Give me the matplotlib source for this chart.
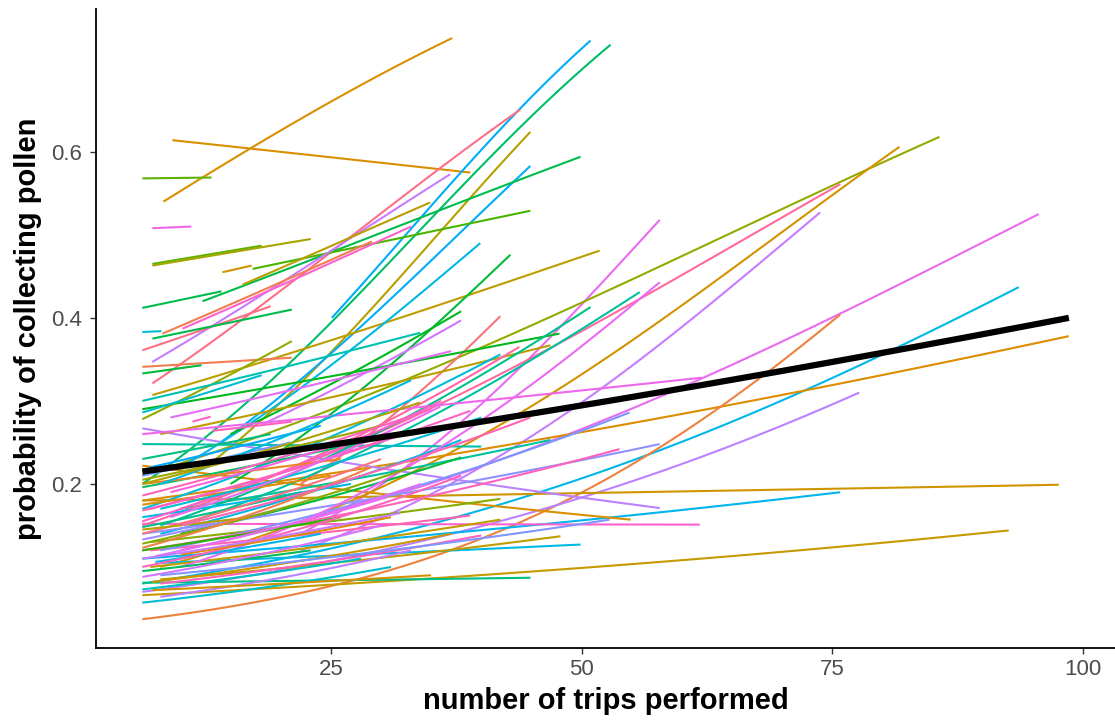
import numpy as np
import matplotlib
matplotlib.use("Agg")
import matplotlib.pyplot as plt

plt.rcParams['font.family'] = ['Liberation Sans', 'DejaVu Sans']

# per-individual fitted lines: start/end trips, start/end probability, group hue
x_start = [8.3, 9.2, 6.2, 7.2, 25.1, 6.2, 7.2, 12.5, 14.0, 12.2, 17.2, 7.2, 16.2, 10.2, 22.0,
           6.2, 10.0, 22.0, 8.0, 10.0, 6.2, 6.2, 6.2, 6.2, 6.2, 6.2, 6.2, 6.2,
           6.2, 6.2, 8.0, 6.2, 8.0, 7.0, 7.0, 8.0, 7.0, 6.2, 10.0, 8.0, 10.0, 8.0, 6.2, 6.2,
           7.2, 15.0, 10.0, 15.0, 18.2, 22.0, 6.2, 8.0, 10.0, 8.0, 10.0, 6.2, 6.2, 6.2,
           7.2, 7.2, 14.2, 6.2, 8.2, 6.2, 7.2, 6.2, 6.2, 6.2, 6.2, 6.2, 11.2, 13.2, 9.0,
           6.2, 6.2, 6.2, 6.2, 6.2, 6.2, 6.2, 6.2, 6.2, 6.2, 6.2, 6.2, 7.5, 7.5, 6.2, 6.2,
           6.2, 7.2, 6.2, 8.0, 6.2, 7.0, 6.2, 6.2, 9.0, 6.2, 8.0, 6.2, 10.0, 6.2, 7.2,
           8.0, 8.0, 6.2, 6.2, 7.0, 10.0, 9.0, 6.2]
x_end = [37.1, 38.9, 13.1, 11.1, 50.9, 52.9, 43.9, 44.9, 44.9, 49.9, 44.9, 36.9, 34.9, 33.0, 57.8,
         85.7, 75.8, 73.8, 81.7, 95.6, 93.6, 98.6, 75.8, 77.7, 97.6, 92.6, 75.8, 61.8,
         54.9, 57.8, 49.9, 44.9, 47.9, 41.9, 41.9, 40.0, 38.9, 40.0, 46.9, 38.0, 38.0, 54.8, 57.8, 53.8,
         51.8, 42.9, 39.9, 38.0, 38.0, 41.9, 47.8, 46.9, 55.8, 50.9, 57.8, 41.9, 43.8, 62.0,
         18.1, 23.0, 17.1, 14.1, 29.1, 19.0, 21.1, 8.1, 21.1, 21.1, 12.1, 18.1, 13.0, 21.1, 37.0,
         30.0, 28.0, 35.0, 25.0, 32.0, 27.0, 36.0, 22.0, 30.0, 20.0, 33.0, 26.0, 34.0, 24.0, 38.0, 23.0,
         30.0, 37.0, 28.0, 33.0, 31.0, 24.0, 19.0, 26.0, 29.0, 21.0, 40.0, 17.0, 31.0, 29.0, 35.0,
         52.8, 33.0, 33.9, 33.9, 38.9, 44.9, 35.9, 31.9]
y_start = [0.540, 0.614, 0.568, 0.508, 0.400, 0.200, 0.321, 0.220, 0.250, 0.420, 0.459, 0.347, 0.440, 0.387, 0.140,
           0.210, 0.170, 0.120, 0.100, 0.120, 0.080, 0.180, 0.037, 0.070, 0.180, 0.066, 0.110, 0.152,
           0.222, 0.267, 0.105, 0.081, 0.085, 0.100, 0.130, 0.080, 0.120, 0.248, 0.170, 0.140, 0.140, 0.120, 0.140, 0.120,
           0.307, 0.200, 0.220, 0.260, 0.272, 0.200, 0.290, 0.260, 0.150, 0.150, 0.100, 0.170, 0.150, 0.260,
           0.465, 0.463, 0.455, 0.412, 0.381, 0.361, 0.375, 0.383, 0.341, 0.278, 0.333, 0.286, 0.275, 0.264, 0.280,
           0.205, 0.196, 0.186, 0.175, 0.168, 0.160, 0.155, 0.148, 0.140, 0.133, 0.128, 0.120, 0.113, 0.106, 0.100, 0.095,
           0.088, 0.082, 0.073, 0.064, 0.057, 0.220, 0.230, 0.200, 0.190, 0.210, 0.170, 0.145, 0.115, 0.123, 0.072,
           0.090, 0.200, 0.300, 0.200, 0.170, 0.150, 0.160, 0.110]
y_end = [0.737, 0.575, 0.569, 0.510, 0.734, 0.729, 0.651, 0.624, 0.583, 0.594, 0.529, 0.573, 0.539, 0.510, 0.518,
         0.618, 0.561, 0.527, 0.606, 0.525, 0.437, 0.378, 0.404, 0.310, 0.199, 0.144, 0.190, 0.151,
         0.157, 0.171, 0.127, 0.087, 0.137, 0.157, 0.182, 0.138, 0.162, 0.245, 0.253, 0.253, 0.232, 0.286, 0.248, 0.242,
         0.481, 0.476, 0.490, 0.408, 0.397, 0.402, 0.381, 0.367, 0.431, 0.413, 0.443, 0.356, 0.365, 0.328,
         0.487, 0.495, 0.463, 0.432, 0.492, 0.414, 0.410, 0.384, 0.352, 0.372, 0.343, 0.331, 0.281, 0.275, 0.360,
         0.270, 0.250, 0.290, 0.210, 0.260, 0.200, 0.300, 0.190, 0.230, 0.170, 0.220, 0.160, 0.200, 0.140, 0.210, 0.120,
         0.150, 0.140, 0.110, 0.120, 0.100, 0.270, 0.260, 0.230, 0.260, 0.250, 0.280, 0.160, 0.160, 0.220, 0.090,
         0.157, 0.325, 0.382, 0.298, 0.288, 0.280, 0.293, 0.165]
hue = [50, 50, 115, 310, 235, 150, 5, 75, 235, 140, 120, 285, 75, 330, 305,
       95, 355, 285, 55, 305, 220, 45, 30, 280, 58, 65, 225, 330,
       50, 280, 215, 160, 70, 70, 100, 340, 345, 180, 175, 215, 135, 260, 265, 340,
       70, 135, 215, 130, 290, 10, 130, 72, 175, 165, 305, 210, 350, 310,
       115, 85, 55, 140, 25, 5, 140, 200, 25, 95, 135, 200, 330, 335, 300,
       90, 150, 340, 45, 350, 215, 330, 165, 10, 270, 100, 125, 300, 220, 340, 145,
       290, 60, 195, 280, 200, 240, 160, 35, 320, 260, 205, 75, 40, 28, 55,
       262, 215, 185, 80, 335, 345, 305, 285]

# population-level fit
pop_x = [6.2, 98.6]
pop_y = [0.215, 0.400]

x_ticks = [25, 50, 75, 100]
y_ticks = [0.2, 0.4, 0.6]


def hcl(h, c=100.0, l=65.0):
    hr = np.radians(h)
    U = c * np.cos(hr)
    V = c * np.sin(hr)
    Xn, Yn, Zn = 95.047, 100.0, 108.883
    un = 4 * Xn / (Xn + 15 * Yn + 3 * Zn)
    vn = 9 * Yn / (Xn + 15 * Yn + 3 * Zn)
    Y = Yn * ((l + 16) / 116) ** 3
    u = U / (13 * l) + un
    v = V / (13 * l) + vn
    X = 9 * Y * u / (4 * v)
    Z = -X / 3 - 5 * Y + 3 * Y / v
    xyz = np.array([X, Y, Z]) / 100.0
    M = np.array([[3.2404542, -1.5371385, -0.4985314],
                  [-0.9692660, 1.8760108, 0.0415560],
                  [0.0556434, -0.2040259, 1.0572252]])
    rgb = M @ xyz
    rgb = np.where(rgb <= 0.0031308, 12.92 * rgb, 1.055 * np.power(np.clip(rgb, 0, None), 1 / 2.4) - 0.055)
    return tuple(np.clip(rgb, 0, 1))


def logit(p):
    return np.log(p / (1 - p))


def curve(x0, x1, p0, p1, n=60):
    xs = np.linspace(x0, x1, n)
    t = (xs - x0) / (x1 - x0)
    z = logit(p0) + t * (logit(p1) - logit(p0))
    return xs, 1 / (1 + np.exp(-z))


fig = plt.figure(figsize=(11.15, 7.2), dpi=100)
ax = fig.add_axes([0.0861, 0.1, 0.9139, 0.8875])

for x0, x1, p0, p1, h in zip(x_start, x_end, y_start, y_end, hue):
    xs, ys = curve(x0, x1, p0, p1)
    ax.plot(xs, ys, color=hcl(h), lw=1.5, solid_capstyle='butt')

xs, ys = curve(pop_x[0], pop_x[1], pop_y[0], pop_y[1])
ax.plot(xs, ys, color='black', lw=4.5, zorder=10, solid_capstyle='butt')

ax.set_xlim(1.58, 103.2)
ax.set_ylim(0.0024, 0.772)
ax.set_xticks(x_ticks)
ax.set_xticklabels([str(t) for t in x_ticks])
ax.set_yticks(y_ticks)
ax.set_yticklabels([f"{t:.1f}" for t in y_ticks])

for s in ['top', 'right']:
    ax.spines[s].set_visible(False)
for s in ['left', 'bottom']:
    ax.spines[s].set_linewidth(1.3)
    ax.spines[s].set_color('black')

ax.tick_params(axis='both', length=4, width=1.0, color='#333333', labelsize=16,
               labelcolor='#4D4D4D')
ax.tick_params(axis='x', pad=4)
ax.tick_params(axis='y', pad=6)
ax.set_xlabel('number of trips performed', fontsize=21, fontweight='bold', labelpad=5)
ax.set_ylabel('probability of collecting pollen', fontsize=21, fontweight='bold', labelpad=7)

fig.savefig('out.png', dpi=100)
